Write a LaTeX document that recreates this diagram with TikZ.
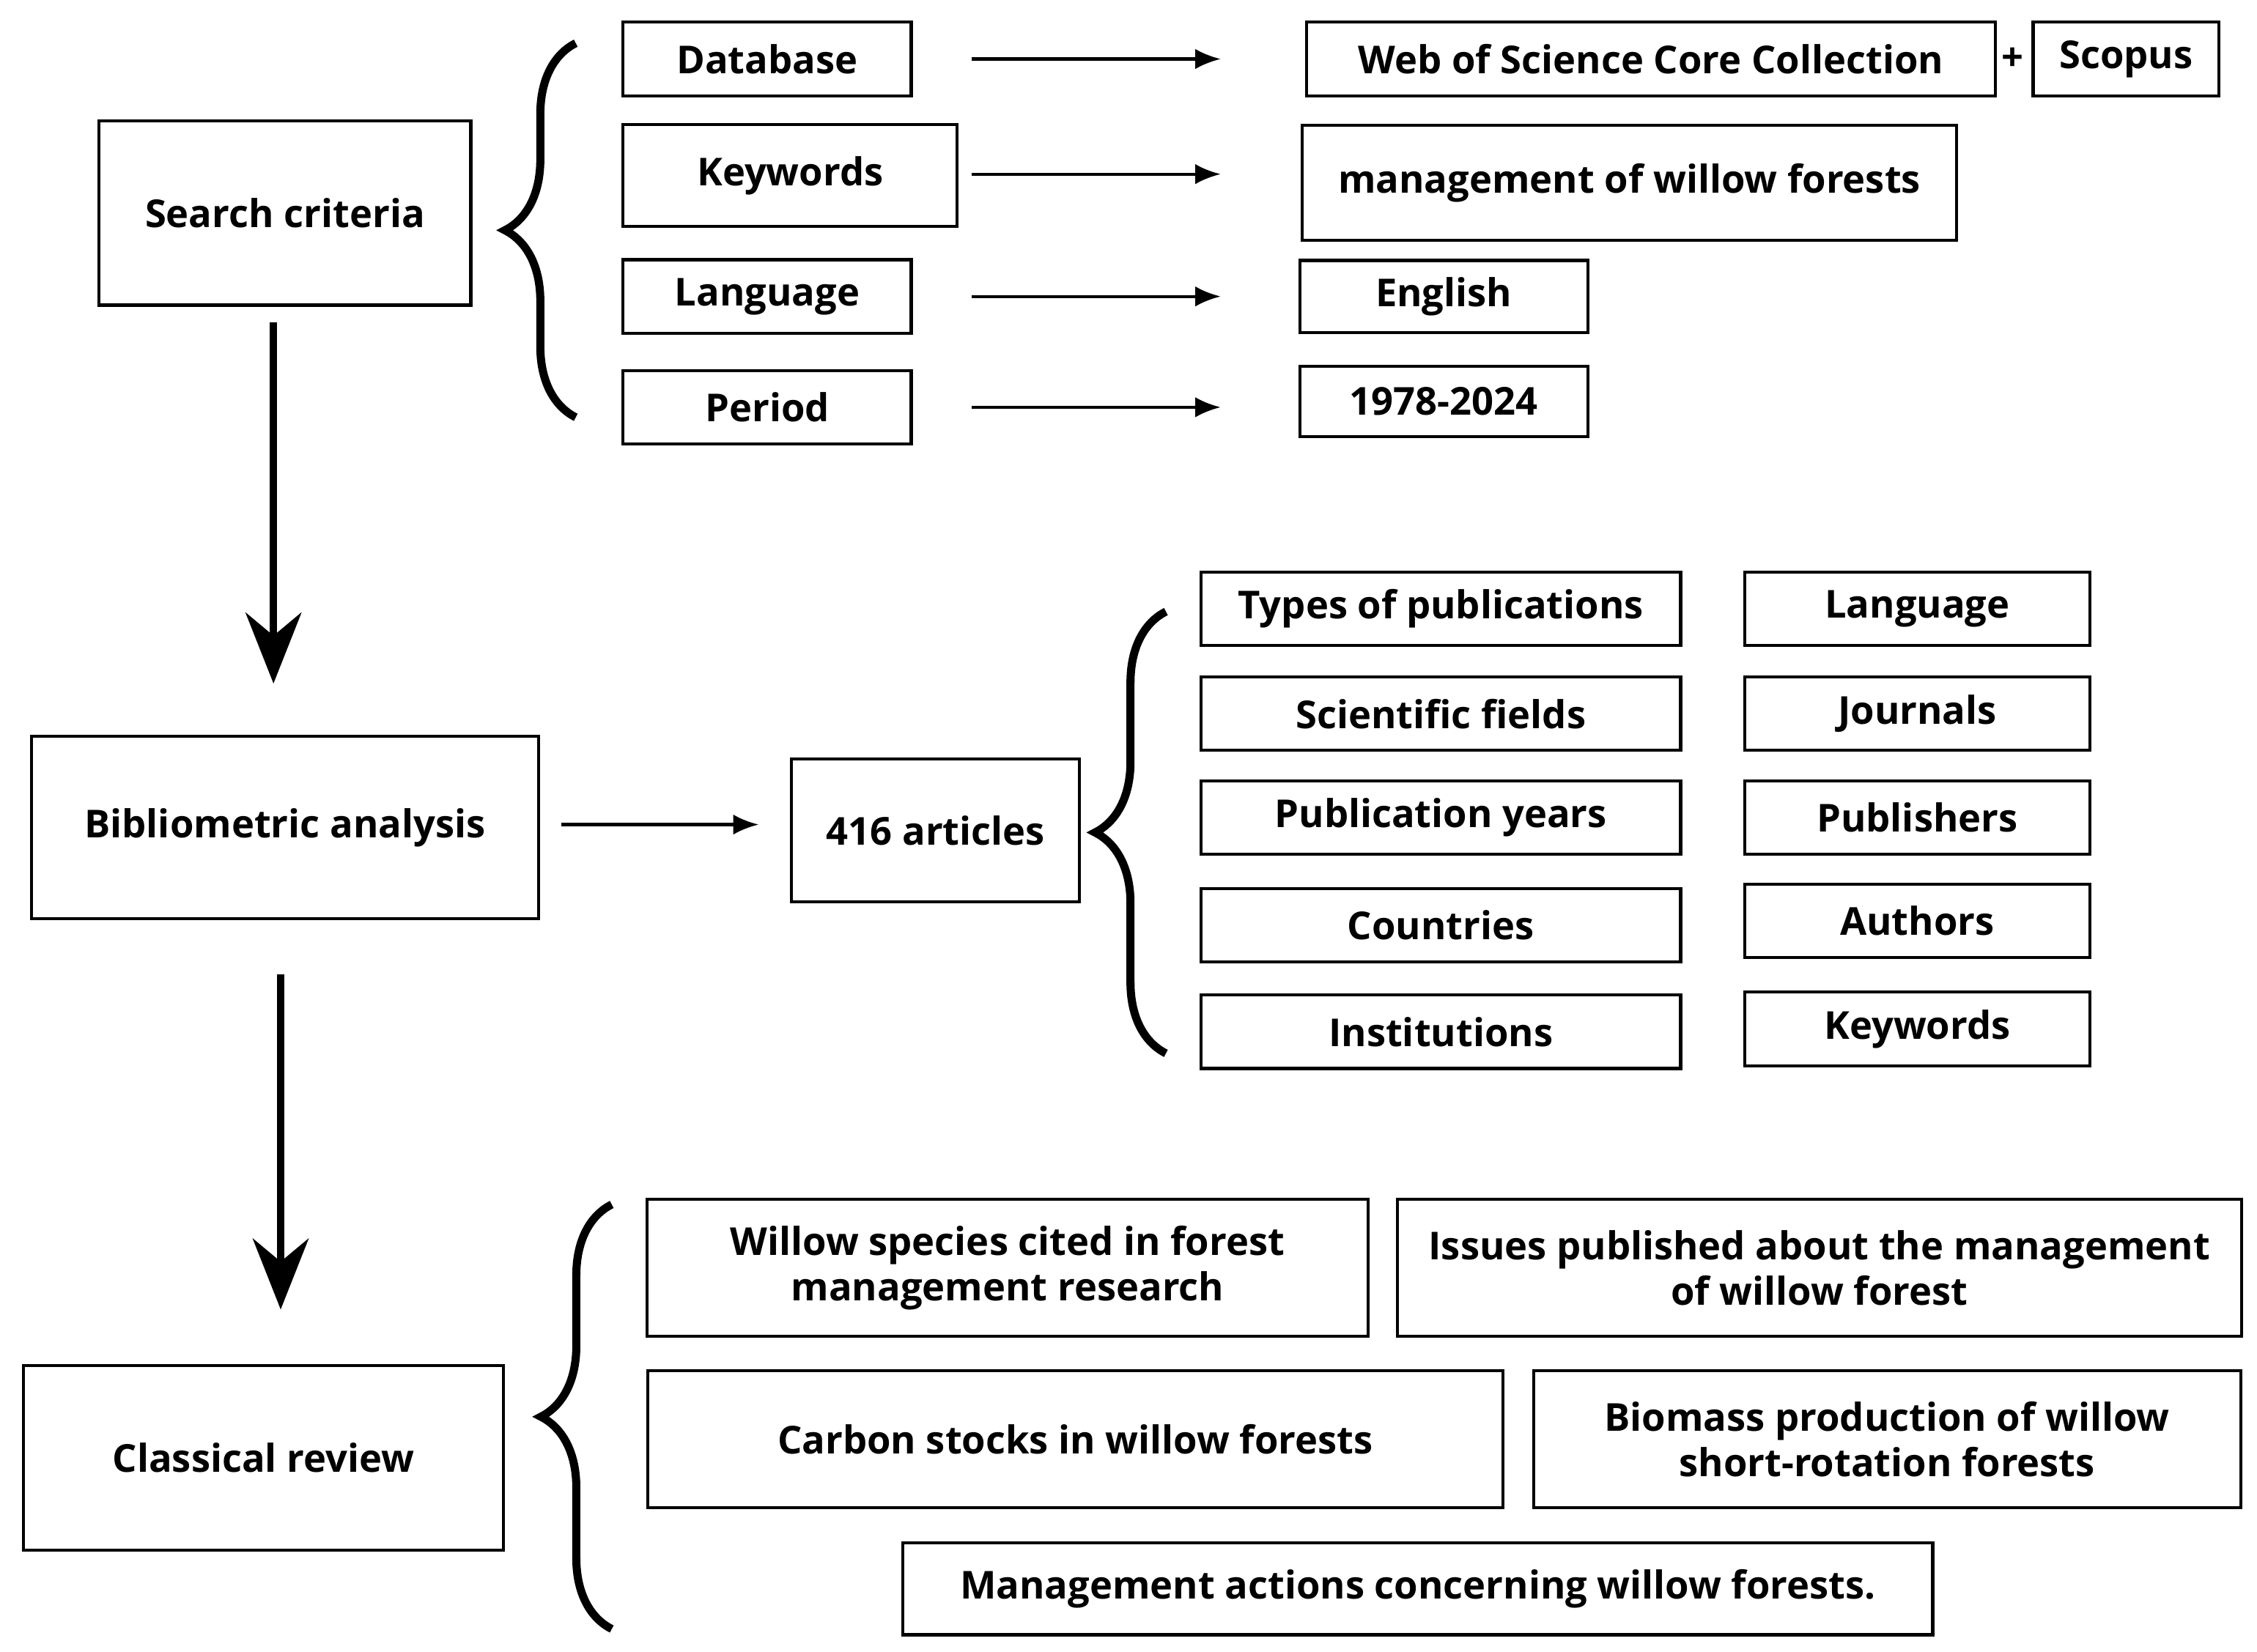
\documentclass[tikz,border=0pt]{standalone}
\usepackage{fontspec}
\setmainfont{Open Sans}
\usetikzlibrary{arrows.meta,decorations.pathreplacing}
\begin{document}
\begin{tikzpicture}[x=0.01cm,y=-0.01cm,font=\fontsize{7.6}{9}\selectfont\bfseries]
    \tikzset{
        box/.style n args={2}{draw,line width=0.6pt,minimum width=#1cm,minimum height=#2cm,inner sep=0pt,align=center},
        thin/.style={-{Latex[length=5pt,width=4pt]},line width=0.6pt},
        thick/.style={-{Stealth[length=14pt,width=11pt]},line width=1.5pt},
        curly/.style={decorate,decoration={brace,amplitude=14pt},line width=1.6pt}
    }
    \useasboundingbox (0,0) rectangle (1568,1148);

    % search criteria
    \node[box={2.58}{1.28}] (search) at (198,148) {Search criteria};
    \node[box={2.00}{0.51}] (db) at (533,41) {Database};
    \node[box={2.32}{0.71}] (kw) at (549,122) {Keywords};
    \node[box={2.00}{0.51}] (lang) at (533,206) {Language};
    \node[box={2.00}{0.51}] (per) at (533,283) {Period};
    \node[box={4.78}{0.51}] (wos) at (1147,41) {Web of Science Core Collection};
    \node (plus) at (1398,41) {+};
    \node[box={1.29}{0.51}] (scopus) at (1477,41) {Scopus};
    \node[box={4.54}{0.80}] (mgmt) at (1132,127) {\fontsize{7.6}{9}\selectfont\bfseries management of willow forests};
    \node[box={2.00}{0.50}] (eng) at (1003,206) {English};
    \node[box={2.00}{0.49}] (yrs) at (1003,279) {1978-2024};
    \coordinate (a1) at (675,41);  \coordinate (b1) at (848,41);
    \coordinate (a2) at (675,121); \coordinate (b2) at (848,121);
    \coordinate (a3) at (675,206); \coordinate (b3) at (848,206);
    \coordinate (a4) at (675,283); \coordinate (b4) at (848,283);
    \foreach \i in {1,...,4}
        \draw[thin] (a\i) -- (b\i);
    \draw[curly] (400,290) -- (400,30);

    % bibliometric analysis
    \node[box={3.52}{1.27}] (biblio) at (198,575) {Bibliometric analysis};
    \node[box={2.00}{0.99}] (arts) at (650,577) {416 articles};
    \draw[thick] (190,224) -- (190,475);
    \coordinate (c1) at (390,573);
    \draw[thin] (c1) -- (527,573);
    \draw[curly] (810,732) -- (810,425);
    \foreach \name/\y/\txt in {tp/423/Types of publications, sf/496/Scientific fields,
        py/568/Publication years, co/643/Countries, in/717/Institutions}
        \node[box={3.33}{0.51}] (\name) at (1001,\y) {\txt};
    \foreach \name/\y/\txt in {la/423/Language, jo/496/Journals,
        pu/568/Publishers, au/640/Authors, ke/715/Keywords}
        \node[box={2.40}{0.51}] (\name) at (1332,\y) {\txt};

    % classical review
    \node[box={3.33}{1.28}] (review) at (183,1013) {Classical review};
    \draw[thick] (195,677) -- (195,910);
    \draw[curly] (425,1132) -- (425,837);
    \node[box={5.01}{0.95}] (species) at (700,881) {Willow species cited in forest\\management research};
    \node[box={5.86}{0.95}] (issues) at (1264,881) {Issues published about the management\\of willow forest};
    \node[box={5.94}{0.95}] (carbon) at (747,1000) {Carbon stocks in willow forests};
    \node[box={4.91}{0.95}] (biomass) at (1311,1000) {Biomass production of willow\\short-rotation forests};
    \node[box={7.15}{0.64}] (actions) at (985,1104) {Management actions concerning willow forests.};
\end{tikzpicture}
\end{document}
